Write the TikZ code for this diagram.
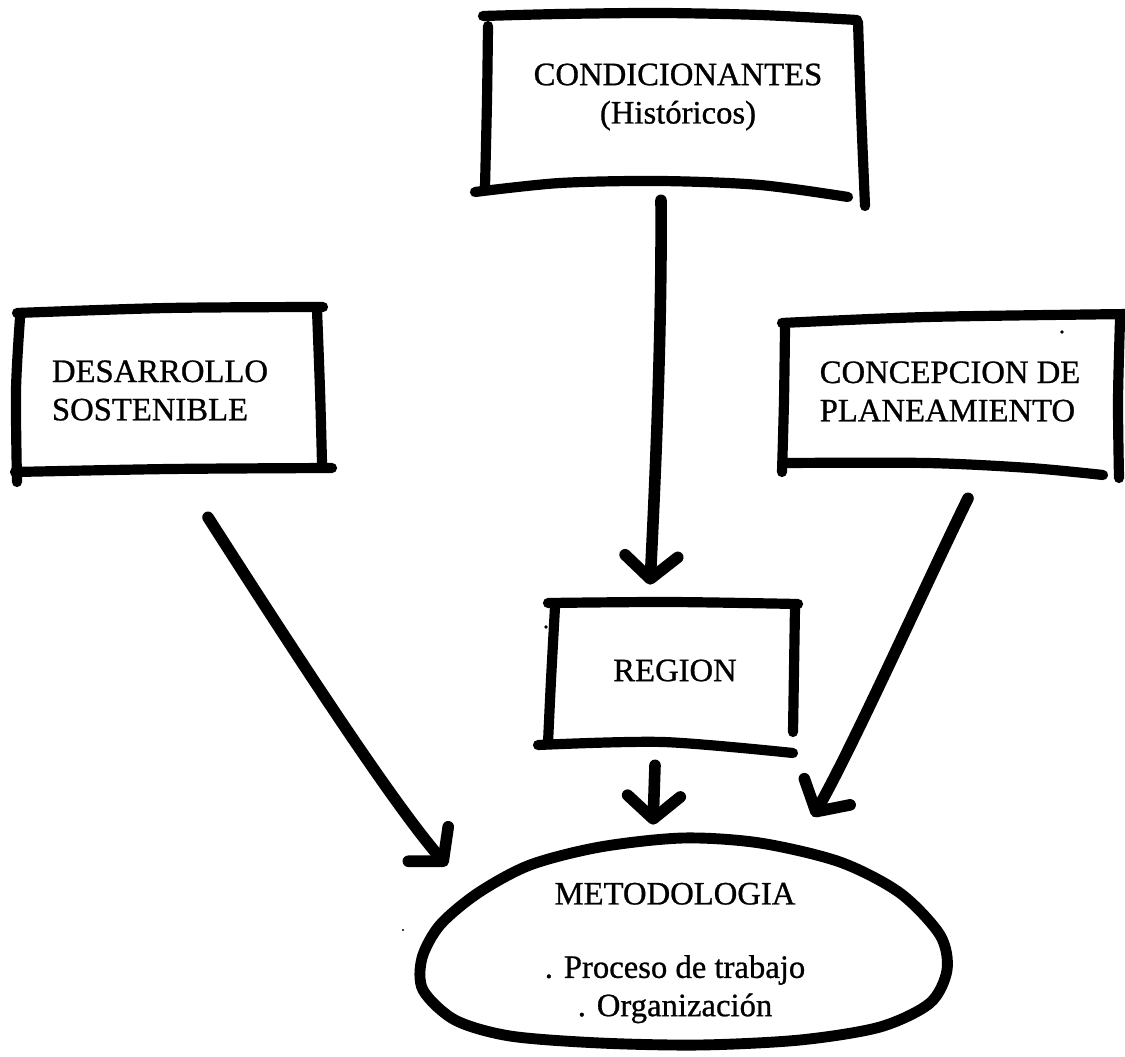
\documentclass[tikz,border=0pt]{standalone}
\usepackage{fontspec}
\setmainfont{Liberation Serif}[FakeBold=0.8]
\usetikzlibrary{arrows.meta,shapes.geometric}

\tikzset{
  pen/.style={line width=5.8pt, line cap=round, line join=round},
  ringpen/.style={line width=6.2pt, line cap=round, line join=round},
  txt/.style={font=\fontsize{18.6}{21.8}\selectfont, inner sep=0pt},
  arr/.style={line width=6.6pt, line cap=round,
    -{Straight Barb[length=13pt, width=30pt, line cap=round, line join=round]}},
  speck/.style={fill=black, draw=none},
}

\begin{document}
\begin{tikzpicture}[x=0.02cm, y=-0.02cm]
\useasboundingbox (0,0) rectangle (1125,1057);

% ---- text blocks (invisible frames, labels only) ----
\node[txt, minimum width=7.4cm, minimum height=3.5cm, align=center]
  (cond) at (678,97) {CONDICIONANTES\\(Históricos)};
\node[txt, minimum width=6.1cm, minimum height=3.2cm, align=left]
  (desa) at (160,390.5) {DESARROLLO\\SOSTENIBLE};
\node[txt, minimum width=6.7cm, minimum height=2.92cm, align=left]
  (conc) at (950,391.5) {CONCEPCION DE\\PLANEAMIENTO};
\node[txt, minimum width=4.9cm, minimum height=2.9cm]
  (region) at (675,670.5) {REGION};
\node[txt, ellipse, minimum width=10.6cm, minimum height=4.2cm, align=center]
  (metod) at (675,953) {METODOLOGIA\\[20pt]. Proceso de trabajo\\. Organización};

% ---- hand-drawn frames ----
% CONDICIONANTES
\draw[pen] plot[smooth] coordinates {(483,16) (560,14) (660,13) (760,15) (857,20)};
\draw[pen] plot[smooth] coordinates {(488,26) (487,100) (485,187)};
\draw[pen] plot[smooth] coordinates {(475,192) (560,183) (660,181) (760,185) (848,197)};
\draw[pen] plot[smooth] coordinates {(858,22) (861,110) (865,206)};

% DESARROLLO SOSTENIBLE
\draw[pen] plot[smooth] coordinates {(17,313) (167,308) (323,307)};
\draw[pen] plot[smooth] coordinates {(20,318) (16,390) (17,482)};
\draw[pen] plot[smooth] coordinates {(15,472) (170,469) (332,468)};
\draw[pen] plot[smooth] coordinates {(317,310) (320,390) (322,463)};

% CONCEPCION DE PLANEAMIENTO
\draw[pen] plot[smooth] coordinates {(782,323) (927,317) (1130,314)};
\draw[pen] plot[smooth] coordinates {(785,328) (784,400) (782,472)};
\draw[pen] plot[smooth] coordinates {(785,463) (927,463) (1030,468) (1103,475)};
\draw[pen] plot[smooth] coordinates {(1120,320) (1118,400) (1119,478)};

% REGION
\draw[pen] plot[smooth] coordinates {(548,603) (670,602) (798,604)};
\draw[pen] plot[smooth] coordinates {(555,607) (551,680) (548,743)};
\draw[pen] plot[smooth] coordinates {(538,745) (663,742) (793,753)};
\draw[pen] plot[smooth] coordinates {(795,607) (794,670) (793,732)};

% METODOLOGIA outline
\draw[ringpen] plot[smooth cycle] coordinates {
  (683,838) (760,843) (840,862) (900,893) (940,935) (947,970) (930,1003)
  (880,1027) (800,1040) (700,1045) (600,1043) (510,1036) (455,1020)
  (423,990) (422,958) (440,925) (478,893) (530,865) (600,847)};

% ---- connectors ----
\draw[arr] ([shift={(-17,15.5)}]cond.south)
  .. controls +(1,130) and +(5,-100) .. ([shift={(-25,-13)}]region.north);
\draw[arr] ([shift={(-20,22)}]region.south) -- ([shift={(-22,-23)}]metod.north);
\draw[arr] ([shift={(48,46.5)}]desa.south)
  .. controls +(82,128) and +(-57,-66) .. ([shift={(-228,18)}]metod.north);
\draw[arr] ([shift={(18,33.5)}]conc.south)
  .. controls +(-38,77) and +(40,-70) .. ([shift={(138,-31)}]metod.north);

% ---- stray specks ----
\fill[speck] (1062,332) circle (1.8);
\fill[speck] (546,627) circle (1.8);
\fill[speck] (403,930) circle (1.2);
\end{tikzpicture}
\end{document}
